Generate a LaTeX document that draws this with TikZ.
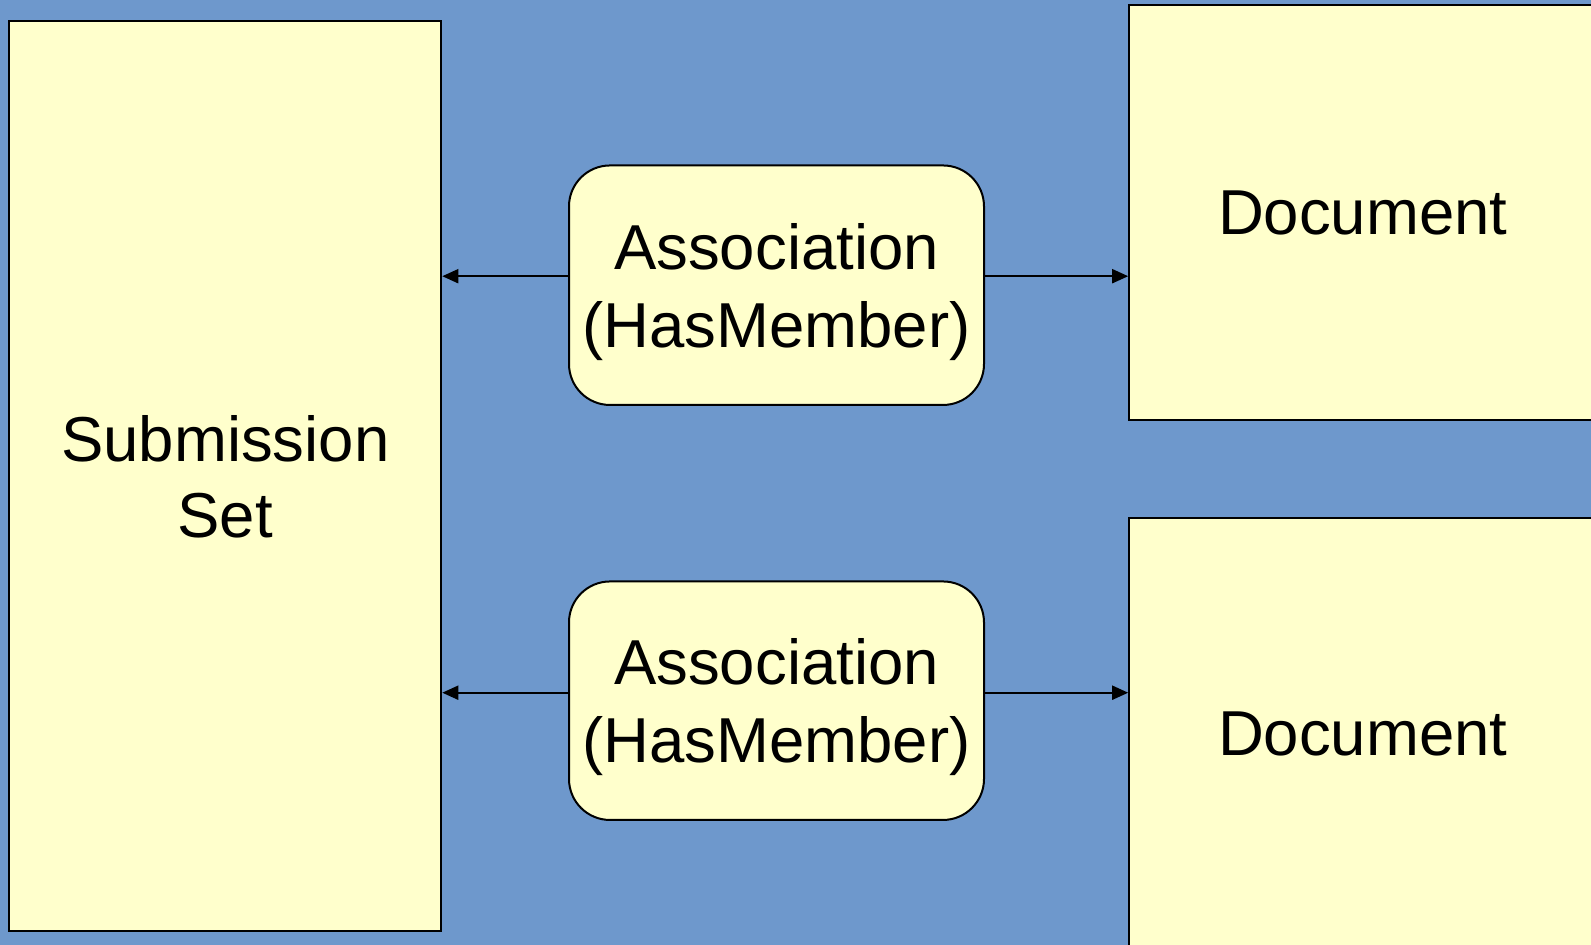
\documentclass[tikz,border=0pt]{standalone}
\usepackage{fontspec}
\setmainfont{Liberation Sans}
\usetikzlibrary{arrows.meta}
\definecolor{bgblue}{HTML}{6E98CC}
\definecolor{boxyellow}{HTML}{FFFFCC}
\tikzset{
  box/.style={draw=black, line width=2pt, fill=boxyellow, align=center, inner sep=0pt,
    font=\fontsize{63.5}{76}\selectfont, text depth=-4pt},
  assoc/.style={box, rounded corners=41pt, font=\fontsize{63.5}{78}\selectfont, text depth=0pt},
  link/.style={draw=black, line width=2pt, -{Triangle[length=16pt,width=14pt]}},
}
\begin{document}
\begin{tikzpicture}[x=1pt,y=-1pt]
\useasboundingbox (0,0) rectangle (1591,945);
\clip (0,0) rectangle (1591,945);
\fill[bgblue] (0,0) rectangle (1591,945);
\node[box, minimum width=432pt, minimum height=910pt] (ss) at (225.3,476.4) {Submission\\Set};
\node[box, minimum width=467pt, minimum height=415pt] (d1) at (1362.7,212.6) {Document};
\node[box, minimum width=467pt, minimum height=432pt] (d2) at (1362.7,733.8) {Document};
\node[assoc, minimum width=415pt, minimum height=239.5pt] (a1) at (776.5,285.2) {Association\\(HasMember)};
\node[assoc, minimum width=415pt, minimum height=238.5pt] (a2) at (776.5,700.7) {Association\\(HasMember)};
\draw[link] ([yshift=9pt]a1.west) -- ([yshift=9pt]a1.west -| ss.east);
\draw[link] ([yshift=9pt]a1.east) -- ([yshift=9pt]a1.east -| d1.west);
\draw[link] ([yshift=8pt]a2.west) -- ([yshift=8pt]a2.west -| ss.east);
\draw[link] ([yshift=8pt]a2.east) -- ([yshift=8pt]a2.east -| d2.west);
\end{tikzpicture}
\end{document}
